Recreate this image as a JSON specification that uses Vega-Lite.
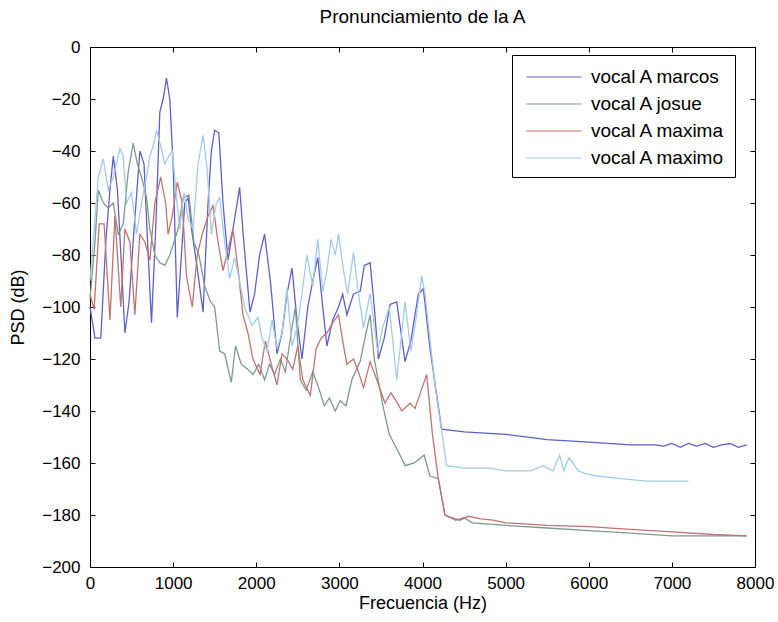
{
  "$schema": "https://vega.github.io/schema/vega-lite/v6.json",
  "autosize": {"type": "none"},
  "width": 665,
  "height": 520,
  "padding": {"left": 90, "top": 47, "right": 23, "bottom": 55},
  "background": "white",
  "config": {
    "font": "Liberation Sans",
    "view": {"stroke": "black", "strokeWidth": 1},
    "axis": {"labelFont": "Liberation Sans", "labelFontSize": 17, "labelColor": "black", "labelFlush": false, "labelOverlap": false, "domainColor": "black", "tickColor": "black", "grid": false, "tickSize": -5, "titleFont": "Liberation Sans", "titleFontSize": 18, "titleFontWeight": "normal", "titleColor": "black"}
  },
  "title": {"text": "Pronunciamiento de la A", "font": "Liberation Sans", "fontSize": 19, "fontWeight": "normal", "color": "black", "offset": 11},
  "data": {"name": "psd"},
  "datasets": {
    "psd": [
      {"s":"vocal A marcos","f":0,"d":-100},{"s":"vocal A marcos","f":60,"d":-112},{"s":"vocal A marcos","f":130,"d":-112},{"s":"vocal A marcos","f":190,"d":-75},{"s":"vocal A marcos","f":240,"d":-55},{"s":"vocal A marcos","f":280,"d":-42},{"s":"vocal A marcos","f":330,"d":-55},{"s":"vocal A marcos","f":380,"d":-85},{"s":"vocal A marcos","f":420,"d":-110},{"s":"vocal A marcos","f":470,"d":-98},{"s":"vocal A marcos","f":530,"d":-70},{"s":"vocal A marcos","f":600,"d":-40},{"s":"vocal A marcos","f":650,"d":-45},{"s":"vocal A marcos","f":700,"d":-80},{"s":"vocal A marcos","f":740,"d":-106},{"s":"vocal A marcos","f":790,"d":-70},{"s":"vocal A marcos","f":840,"d":-25},{"s":"vocal A marcos","f":880,"d":-20},{"s":"vocal A marcos","f":920,"d":-12},{"s":"vocal A marcos","f":960,"d":-20},{"s":"vocal A marcos","f":1000,"d":-45},{"s":"vocal A marcos","f":1050,"d":-104},{"s":"vocal A marcos","f":1100,"d":-80},{"s":"vocal A marcos","f":1140,"d":-60},{"s":"vocal A marcos","f":1180,"d":-58},{"s":"vocal A marcos","f":1230,"d":-72},{"s":"vocal A marcos","f":1290,"d":-85},{"s":"vocal A marcos","f":1360,"d":-102},{"s":"vocal A marcos","f":1420,"d":-60},{"s":"vocal A marcos","f":1460,"d":-40},{"s":"vocal A marcos","f":1500,"d":-32},{"s":"vocal A marcos","f":1550,"d":-33},{"s":"vocal A marcos","f":1600,"d":-60},{"s":"vocal A marcos","f":1660,"d":-82},{"s":"vocal A marcos","f":1720,"d":-70},{"s":"vocal A marcos","f":1800,"d":-54},{"s":"vocal A marcos","f":1850,"d":-75},{"s":"vocal A marcos","f":1925,"d":-102},{"s":"vocal A marcos","f":1980,"d":-95},{"s":"vocal A marcos","f":2040,"d":-80},{"s":"vocal A marcos","f":2100,"d":-72},{"s":"vocal A marcos","f":2170,"d":-90},{"s":"vocal A marcos","f":2250,"d":-118},{"s":"vocal A marcos","f":2310,"d":-110},{"s":"vocal A marcos","f":2370,"d":-95},{"s":"vocal A marcos","f":2430,"d":-85},{"s":"vocal A marcos","f":2490,"d":-105},{"s":"vocal A marcos","f":2550,"d":-120},{"s":"vocal A marcos","f":2620,"d":-100},{"s":"vocal A marcos","f":2680,"d":-90},{"s":"vocal A marcos","f":2740,"d":-81},{"s":"vocal A marcos","f":2800,"d":-100},{"s":"vocal A marcos","f":2850,"d":-115},{"s":"vocal A marcos","f":2920,"d":-105},{"s":"vocal A marcos","f":2990,"d":-100},{"s":"vocal A marcos","f":3040,"d":-95},{"s":"vocal A marcos","f":3090,"d":-103},{"s":"vocal A marcos","f":3170,"d":-95},{"s":"vocal A marcos","f":3250,"d":-94},{"s":"vocal A marcos","f":3300,"d":-84},{"s":"vocal A marcos","f":3370,"d":-83},{"s":"vocal A marcos","f":3420,"d":-100},{"s":"vocal A marcos","f":3470,"d":-120},{"s":"vocal A marcos","f":3540,"d":-112},{"s":"vocal A marcos","f":3610,"d":-99},{"s":"vocal A marcos","f":3690,"d":-98},{"s":"vocal A marcos","f":3790,"d":-121},{"s":"vocal A marcos","f":3860,"d":-113},{"s":"vocal A marcos","f":3950,"d":-95},{"s":"vocal A marcos","f":4010,"d":-93},{"s":"vocal A marcos","f":4090,"d":-116},{"s":"vocal A marcos","f":4230,"d":-147},{"s":"vocal A marcos","f":4500,"d":-148},{"s":"vocal A marcos","f":5000,"d":-149},{"s":"vocal A marcos","f":5500,"d":-151},{"s":"vocal A marcos","f":6000,"d":-152},{"s":"vocal A marcos","f":6500,"d":-153},{"s":"vocal A marcos","f":6800,"d":-153},{"s":"vocal A marcos","f":6900,"d":-153.5},{"s":"vocal A marcos","f":7000,"d":-152.5},{"s":"vocal A marcos","f":7100,"d":-154},{"s":"vocal A marcos","f":7200,"d":-152.5},{"s":"vocal A marcos","f":7300,"d":-153.5},{"s":"vocal A marcos","f":7400,"d":-152.5},{"s":"vocal A marcos","f":7500,"d":-154},{"s":"vocal A marcos","f":7600,"d":-153},{"s":"vocal A marcos","f":7700,"d":-152.5},{"s":"vocal A marcos","f":7800,"d":-154},{"s":"vocal A marcos","f":7900,"d":-153},

      {"s":"vocal A josue","f":0,"d":-97},{"s":"vocal A josue","f":60,"d":-75},{"s":"vocal A josue","f":100,"d":-55},{"s":"vocal A josue","f":160,"d":-60},{"s":"vocal A josue","f":220,"d":-62},{"s":"vocal A josue","f":280,"d":-60},{"s":"vocal A josue","f":340,"d":-72},{"s":"vocal A josue","f":400,"d":-68},{"s":"vocal A josue","f":460,"d":-48},{"s":"vocal A josue","f":520,"d":-37},{"s":"vocal A josue","f":570,"d":-45},{"s":"vocal A josue","f":620,"d":-50},{"s":"vocal A josue","f":680,"d":-58},{"s":"vocal A josue","f":720,"d":-70},{"s":"vocal A josue","f":780,"d":-80},{"s":"vocal A josue","f":840,"d":-83},{"s":"vocal A josue","f":900,"d":-84},{"s":"vocal A josue","f":960,"d":-80},{"s":"vocal A josue","f":1000,"d":-76},{"s":"vocal A josue","f":1060,"d":-70},{"s":"vocal A josue","f":1120,"d":-58},{"s":"vocal A josue","f":1190,"d":-57},{"s":"vocal A josue","f":1250,"d":-75},{"s":"vocal A josue","f":1310,"d":-80},{"s":"vocal A josue","f":1380,"d":-92},{"s":"vocal A josue","f":1450,"d":-98},{"s":"vocal A josue","f":1500,"d":-100},{"s":"vocal A josue","f":1560,"d":-117},{"s":"vocal A josue","f":1620,"d":-118},{"s":"vocal A josue","f":1700,"d":-129},{"s":"vocal A josue","f":1750,"d":-115},{"s":"vocal A josue","f":1820,"d":-122},{"s":"vocal A josue","f":1900,"d":-124},{"s":"vocal A josue","f":1960,"d":-126},{"s":"vocal A josue","f":2030,"d":-122},{"s":"vocal A josue","f":2100,"d":-128},{"s":"vocal A josue","f":2160,"d":-122},{"s":"vocal A josue","f":2220,"d":-126},{"s":"vocal A josue","f":2290,"d":-120},{"s":"vocal A josue","f":2350,"d":-125},{"s":"vocal A josue","f":2420,"d":-110},{"s":"vocal A josue","f":2470,"d":-100},{"s":"vocal A josue","f":2530,"d":-128},{"s":"vocal A josue","f":2600,"d":-132},{"s":"vocal A josue","f":2680,"d":-125},{"s":"vocal A josue","f":2750,"d":-131},{"s":"vocal A josue","f":2820,"d":-138},{"s":"vocal A josue","f":2880,"d":-135},{"s":"vocal A josue","f":2950,"d":-140},{"s":"vocal A josue","f":3010,"d":-136},{"s":"vocal A josue","f":3080,"d":-138},{"s":"vocal A josue","f":3150,"d":-128},{"s":"vocal A josue","f":3250,"d":-121},{"s":"vocal A josue","f":3320,"d":-110},{"s":"vocal A josue","f":3370,"d":-103},{"s":"vocal A josue","f":3420,"d":-120},{"s":"vocal A josue","f":3530,"d":-139},{"s":"vocal A josue","f":3600,"d":-149},{"s":"vocal A josue","f":3730,"d":-157},{"s":"vocal A josue","f":3790,"d":-161},{"s":"vocal A josue","f":3900,"d":-160},{"s":"vocal A josue","f":4020,"d":-157},{"s":"vocal A josue","f":4090,"d":-165},{"s":"vocal A josue","f":4190,"d":-166},{"s":"vocal A josue","f":4270,"d":-180},{"s":"vocal A josue","f":4400,"d":-182},{"s":"vocal A josue","f":4500,"d":-181},{"s":"vocal A josue","f":4600,"d":-183},{"s":"vocal A josue","f":5000,"d":-184},{"s":"vocal A josue","f":5500,"d":-185},{"s":"vocal A josue","f":6000,"d":-186},{"s":"vocal A josue","f":6500,"d":-187},{"s":"vocal A josue","f":7000,"d":-188},{"s":"vocal A josue","f":7500,"d":-188},{"s":"vocal A josue","f":7900,"d":-188},

      {"s":"vocal A maxima","f":0,"d":-95},{"s":"vocal A maxima","f":50,"d":-101},{"s":"vocal A maxima","f":110,"d":-68},{"s":"vocal A maxima","f":170,"d":-68},{"s":"vocal A maxima","f":240,"d":-105},{"s":"vocal A maxima","f":300,"d":-65},{"s":"vocal A maxima","f":370,"d":-100},{"s":"vocal A maxima","f":420,"d":-70},{"s":"vocal A maxima","f":480,"d":-75},{"s":"vocal A maxima","f":540,"d":-103},{"s":"vocal A maxima","f":600,"d":-72},{"s":"vocal A maxima","f":660,"d":-75},{"s":"vocal A maxima","f":720,"d":-82},{"s":"vocal A maxima","f":780,"d":-60},{"s":"vocal A maxima","f":850,"d":-50},{"s":"vocal A maxima","f":910,"d":-60},{"s":"vocal A maxima","f":940,"d":-72},{"s":"vocal A maxima","f":990,"d":-65},{"s":"vocal A maxima","f":1050,"d":-52},{"s":"vocal A maxima","f":1110,"d":-60},{"s":"vocal A maxima","f":1160,"d":-88},{"s":"vocal A maxima","f":1230,"d":-100},{"s":"vocal A maxima","f":1290,"d":-80},{"s":"vocal A maxima","f":1350,"d":-72},{"s":"vocal A maxima","f":1420,"d":-65},{"s":"vocal A maxima","f":1480,"d":-61},{"s":"vocal A maxima","f":1540,"d":-75},{"s":"vocal A maxima","f":1600,"d":-86},{"s":"vocal A maxima","f":1660,"d":-78},{"s":"vocal A maxima","f":1720,"d":-70},{"s":"vocal A maxima","f":1780,"d":-85},{"s":"vocal A maxima","f":1840,"d":-103},{"s":"vocal A maxima","f":1900,"d":-110},{"s":"vocal A maxima","f":1960,"d":-120},{"s":"vocal A maxima","f":2045,"d":-126},{"s":"vocal A maxima","f":2110,"d":-113},{"s":"vocal A maxima","f":2180,"d":-122},{"s":"vocal A maxima","f":2250,"d":-130},{"s":"vocal A maxima","f":2310,"d":-118},{"s":"vocal A maxima","f":2370,"d":-120},{"s":"vocal A maxima","f":2440,"d":-124},{"s":"vocal A maxima","f":2500,"d":-115},{"s":"vocal A maxima","f":2560,"d":-128},{"s":"vocal A maxima","f":2650,"d":-134},{"s":"vocal A maxima","f":2720,"d":-116},{"s":"vocal A maxima","f":2780,"d":-112},{"s":"vocal A maxima","f":2850,"d":-110},{"s":"vocal A maxima","f":2920,"d":-106},{"s":"vocal A maxima","f":2990,"d":-103},{"s":"vocal A maxima","f":3040,"d":-113},{"s":"vocal A maxima","f":3090,"d":-122},{"s":"vocal A maxima","f":3170,"d":-120},{"s":"vocal A maxima","f":3230,"d":-125},{"s":"vocal A maxima","f":3290,"d":-131},{"s":"vocal A maxima","f":3370,"d":-121},{"s":"vocal A maxima","f":3450,"d":-128},{"s":"vocal A maxima","f":3550,"d":-137},{"s":"vocal A maxima","f":3620,"d":-133},{"s":"vocal A maxima","f":3700,"d":-137},{"s":"vocal A maxima","f":3750,"d":-140},{"s":"vocal A maxima","f":3850,"d":-137},{"s":"vocal A maxima","f":3910,"d":-139},{"s":"vocal A maxima","f":4050,"d":-126},{"s":"vocal A maxima","f":4120,"d":-149},{"s":"vocal A maxima","f":4190,"d":-166},{"s":"vocal A maxima","f":4270,"d":-180},{"s":"vocal A maxima","f":4350,"d":-181},{"s":"vocal A maxima","f":4450,"d":-182},{"s":"vocal A maxima","f":4550,"d":-180.5},{"s":"vocal A maxima","f":4700,"d":-181.5},{"s":"vocal A maxima","f":4850,"d":-182},{"s":"vocal A maxima","f":5000,"d":-183},{"s":"vocal A maxima","f":5500,"d":-184},{"s":"vocal A maxima","f":6000,"d":-184.5},{"s":"vocal A maxima","f":6500,"d":-185.5},{"s":"vocal A maxima","f":7000,"d":-186.5},{"s":"vocal A maxima","f":7500,"d":-187.5},{"s":"vocal A maxima","f":7900,"d":-188},

      {"s":"vocal A maximo","f":0,"d":-90},{"s":"vocal A maximo","f":50,"d":-70},{"s":"vocal A maximo","f":100,"d":-50},{"s":"vocal A maximo","f":160,"d":-43},{"s":"vocal A maximo","f":220,"d":-55},{"s":"vocal A maximo","f":280,"d":-50},{"s":"vocal A maximo","f":360,"d":-39},{"s":"vocal A maximo","f":400,"d":-42},{"s":"vocal A maximo","f":440,"d":-60},{"s":"vocal A maximo","f":500,"d":-56},{"s":"vocal A maximo","f":560,"d":-72},{"s":"vocal A maximo","f":620,"d":-60},{"s":"vocal A maximo","f":680,"d":-50},{"s":"vocal A maximo","f":720,"d":-42},{"s":"vocal A maximo","f":760,"d":-38},{"s":"vocal A maximo","f":800,"d":-32},{"s":"vocal A maximo","f":850,"d":-38},{"s":"vocal A maximo","f":900,"d":-45},{"s":"vocal A maximo","f":950,"d":-42},{"s":"vocal A maximo","f":990,"d":-40},{"s":"vocal A maximo","f":1040,"d":-58},{"s":"vocal A maximo","f":1080,"d":-70},{"s":"vocal A maximo","f":1130,"d":-56},{"s":"vocal A maximo","f":1180,"d":-66},{"s":"vocal A maximo","f":1240,"d":-70},{"s":"vocal A maximo","f":1300,"d":-45},{"s":"vocal A maximo","f":1360,"d":-34},{"s":"vocal A maximo","f":1410,"d":-47},{"s":"vocal A maximo","f":1460,"d":-72},{"s":"vocal A maximo","f":1520,"d":-60},{"s":"vocal A maximo","f":1560,"d":-58},{"s":"vocal A maximo","f":1620,"d":-75},{"s":"vocal A maximo","f":1680,"d":-89},{"s":"vocal A maximo","f":1740,"d":-81},{"s":"vocal A maximo","f":1800,"d":-90},{"s":"vocal A maximo","f":1860,"d":-100},{"s":"vocal A maximo","f":1950,"d":-107},{"s":"vocal A maximo","f":2020,"d":-104},{"s":"vocal A maximo","f":2070,"d":-112},{"s":"vocal A maximo","f":2130,"d":-117},{"s":"vocal A maximo","f":2190,"d":-105},{"s":"vocal A maximo","f":2250,"d":-116},{"s":"vocal A maximo","f":2310,"d":-110},{"s":"vocal A maximo","f":2370,"d":-93},{"s":"vocal A maximo","f":2430,"d":-115},{"s":"vocal A maximo","f":2490,"d":-108},{"s":"vocal A maximo","f":2550,"d":-95},{"s":"vocal A maximo","f":2610,"d":-80},{"s":"vocal A maximo","f":2680,"d":-92},{"s":"vocal A maximo","f":2740,"d":-74},{"s":"vocal A maximo","f":2800,"d":-94},{"s":"vocal A maximo","f":2850,"d":-86},{"s":"vocal A maximo","f":2900,"d":-74},{"s":"vocal A maximo","f":2950,"d":-80},{"s":"vocal A maximo","f":2990,"d":-72},{"s":"vocal A maximo","f":3050,"d":-86},{"s":"vocal A maximo","f":3100,"d":-95},{"s":"vocal A maximo","f":3170,"d":-79},{"s":"vocal A maximo","f":3230,"d":-95},{"s":"vocal A maximo","f":3290,"d":-108},{"s":"vocal A maximo","f":3370,"d":-95},{"s":"vocal A maximo","f":3460,"d":-117},{"s":"vocal A maximo","f":3520,"d":-108},{"s":"vocal A maximo","f":3600,"d":-100},{"s":"vocal A maximo","f":3690,"d":-128},{"s":"vocal A maximo","f":3790,"d":-98},{"s":"vocal A maximo","f":3860,"d":-117},{"s":"vocal A maximo","f":3920,"d":-105},{"s":"vocal A maximo","f":3990,"d":-88},{"s":"vocal A maximo","f":4030,"d":-95},{"s":"vocal A maximo","f":4150,"d":-130},{"s":"vocal A maximo","f":4290,"d":-161},{"s":"vocal A maximo","f":4500,"d":-162},{"s":"vocal A maximo","f":4800,"d":-162},{"s":"vocal A maximo","f":5000,"d":-163},{"s":"vocal A maximo","f":5300,"d":-163},{"s":"vocal A maximo","f":5450,"d":-161},{"s":"vocal A maximo","f":5570,"d":-163},{"s":"vocal A maximo","f":5650,"d":-157},{"s":"vocal A maximo","f":5700,"d":-163},{"s":"vocal A maximo","f":5760,"d":-158},{"s":"vocal A maximo","f":5810,"d":-160},{"s":"vocal A maximo","f":5870,"d":-163},{"s":"vocal A maximo","f":5950,"d":-164},{"s":"vocal A maximo","f":6100,"d":-165},{"s":"vocal A maximo","f":6380,"d":-166},{"s":"vocal A maximo","f":6700,"d":-167},{"s":"vocal A maximo","f":7200,"d":-167}
    ]
  },
  "layer": [
    {
      "mark": {"type": "line", "strokeWidth": 1.3, "interpolate": "linear"},
      "encoding": {
        "x": {"field": "f", "type": "quantitative", "scale": {"domain": [0, 8000], "nice": false, "zero": false}, "axis": {"title": "Frecuencia (Hz)", "values": [0,1000,2000,3000,4000,5000,6000,7000,8000], "labelPadding": 13, "titlePadding": 3, "format": "d"}},
        "y": {"field": "d", "type": "quantitative", "scale": {"domain": [-200, 0], "nice": false}, "axis": {"title": "PSD (dB)", "values": [-200,-180,-160,-140,-120,-100,-80,-60,-40,-20,0], "labelPadding": 15, "titlePadding": 14, "format": "d"}},
        "color": {"field": "s", "type": "nominal", "sort": ["vocal A marcos", "vocal A josue", "vocal A maxima", "vocal A maximo"], "scale": {"domain": ["vocal A marcos", "vocal A josue", "vocal A maxima", "vocal A maximo"], "range": ["#5f5fc8", "#7f9a8a", "#c27272", "#a2cbe8"]}, "legend": {"title": null, "orient": "none", "legendX": 422, "legendY": 8, "symbolType": "M-2.2,0H2.2", "symbolSize": 625, "symbolStrokeWidth": 1, "labelFont": "Liberation Sans", "labelFontSize": 19, "labelColor": "black", "strokeColor": "black", "fillColor": "white", "padding": 9, "rowPadding": 4, "symbolOffset": 20, "labelOffset": 24}},
        "order": {"field": "f", "type": "quantitative"}
      }
    },
    {
      "mark": {"type": "point", "opacity": 0},
      "encoding": {
        "x": {"field": "f", "type": "quantitative", "axis": {"orient": "top", "labels": false, "title": null, "values": [0,1000,2000,3000,4000,5000,6000,7000,8000]}},
        "y": {"field": "d", "type": "quantitative", "axis": {"orient": "right", "labels": false, "title": null, "values": [-200,-180,-160,-140,-120,-100,-80,-60,-40,-20,0]}}
      }
    }
  ],
  "resolve": {"axis": {"x": "independent", "y": "independent"}}
}
